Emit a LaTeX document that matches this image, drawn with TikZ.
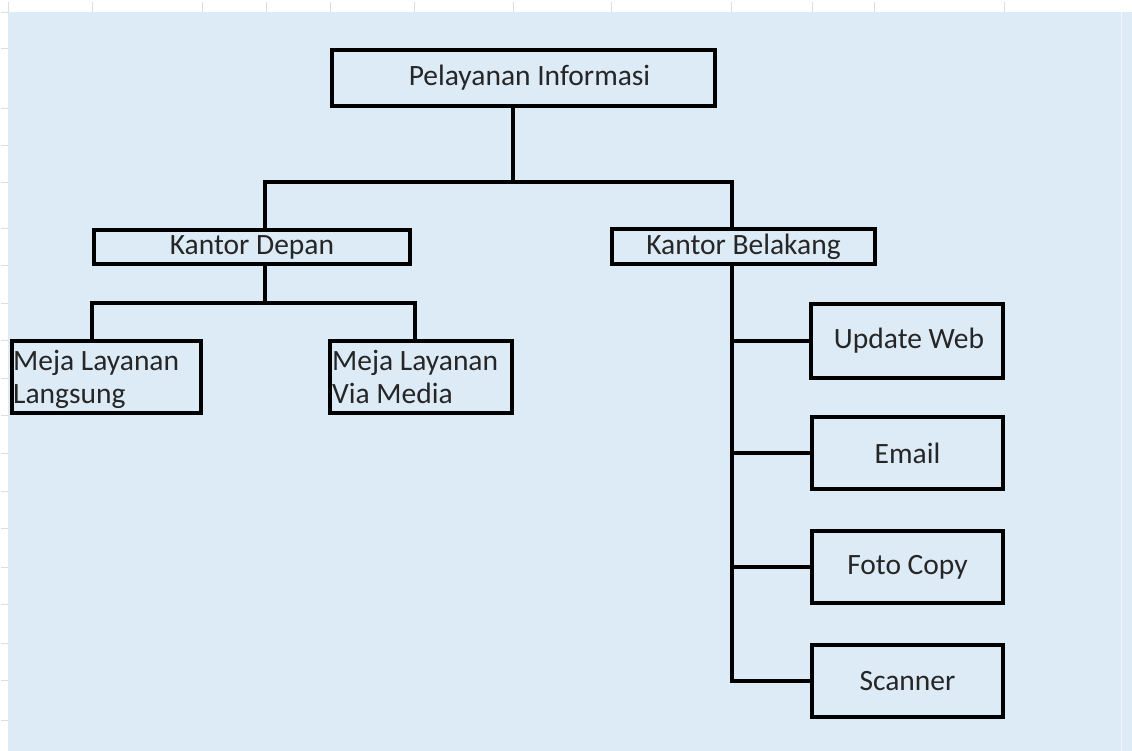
\documentclass[tikz,border=0pt]{standalone}
\usepackage{fontspec}
\setmainfont{Carlito}
\definecolor{bgblue}{RGB}{221,235,247}
\definecolor{txtgray}{RGB}{38,38,38}
\definecolor{gridgray}{RGB}{218,222,226}
\begin{document}
\begin{tikzpicture}[x=1pt,y=-1pt,
  box/.style={draw=black,line width=4.5pt,fill=bgblue,rectangle,inner sep=0pt,
    text=txtgray,font=\fontsize{29.5}{34}\selectfont},
  boxtext/.style={anchor=north west,inner sep=0pt,align=left,text=txtgray,
    font=\fontsize{29.5}{33}\selectfont},
  conn/.style={draw=black,line width=4.5pt,line join=miter},
  tick/.style={draw=gridgray,line width=0.8pt}]
\useasboundingbox (0,0) rectangle (1132,751);
\fill[white] (0,0) rectangle (1132,751);
\fill[bgblue] (8,12) rectangle (1132,751);
\draw[draw=white!60!bgblue,line width=1pt] (1121,12) -- (1121,751);
% grid ticks
\foreach \gx in {8,92,202,266,330,414,513,611,731,812,874,1004}
  \draw[tick] (\gx,2) -- (\gx,12);
\foreach \gy in {12,48,108,145,182,228,265,303,340,378,415,453,491,528,567,604,643,680,720}
  \draw[tick] (1,\gy) -- (8,\gy);
% nodes
\node[box,minimum width=383pt,minimum height=56pt] (top) at (523.5,78) {\hspace*{12pt}Pelayanan Informasi};
\node[box,minimum width=316pt,minimum height=34pt] (kd) at (252,247) {Kantor Depan};
\node[box,minimum width=263pt,minimum height=35pt] (kb) at (743.5,246.5) {Kantor Belakang};
\node[box,minimum width=189pt,minimum height=72pt] (ml) at (106.5,377) {};
\node[box,minimum width=182pt,minimum height=72pt] (mv) at (421,377) {};
\node[boxtext] (mlt) at (13,350) {Meja Layanan\\Langsung};
\node[boxtext] (mvt) at (332,350) {Meja Layanan\\Via Media};
\node[box,minimum width=192pt,minimum height=74pt] (uw) at (907,341) {\hspace*{4pt}Update Web};
\node[box,minimum width=191pt,minimum height=72pt] (em) at (907.5,453) {Email};
\node[box,minimum width=191pt,minimum height=72pt] (fc) at (907.5,567) {Foto Copy};
\node[box,minimum width=191pt,minimum height=72pt] (sc) at (907.5,681) {Scanner};
% junction coordinates
\coordinate (jt) at (513,182);
\coordinate (jl) at (265,182);
\coordinate (jr) at (732,182);
\coordinate (jd) at (265,303);
\coordinate (jdl) at (92,303);
\coordinate (jdr) at (415,303);
\coordinate (jb) at (732,681);
% connectors
\draw[conn] (top.south -| jt) -- (jt);
\draw[conn] (kd.north -| jl) -- (jl) -- (jr) -- (kb.north -| jr);
\draw[conn] (kd.south -| jd) -- (jd);
\draw[conn] (ml.north -| jdl) -- (jdl) -- (jdr) -- (mv.north -| jdr);
\draw[conn] (kb.south -| jr) -- (jb) -- (sc.west);
\draw[conn] (uw.west -| jr) -- (uw.west);
\draw[conn] (em.west -| jr) -- (em.west);
\draw[conn] (fc.west -| jr) -- (fc.west);
\end{tikzpicture}
\end{document}
